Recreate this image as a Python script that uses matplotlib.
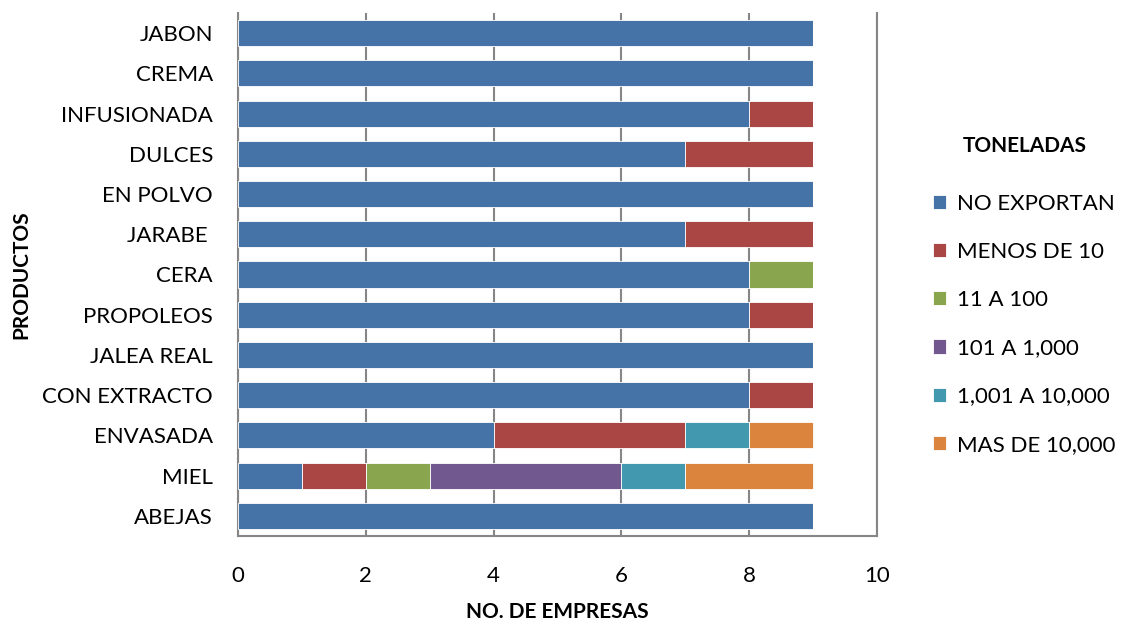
import matplotlib
matplotlib.use("Agg")
import matplotlib.pyplot as plt
import numpy as np

plt.rcParams['font.family'] = ['Lato', 'DejaVu Sans']

productos = ["JABON", "CREMA", "INFUSIONADA", "DULCES", "EN POLVO", "JARABE ",
             "CERA", "PROPOLEOS", "JALEA REAL", "CON EXTRACTO", "ENVASADA",
             "MIEL", "ABEJAS"]

no_exportan = [9, 9, 8, 7, 9, 7, 8, 8, 9, 8, 4, 1, 9]
menos_de_10 = [0, 0, 1, 2, 0, 2, 0, 1, 0, 1, 3, 1, 0]
de_11_a_100 = [0, 0, 0, 0, 0, 0, 1, 0, 0, 0, 0, 1, 0]
de_101_a_1000 = [0, 0, 0, 0, 0, 0, 0, 0, 0, 0, 0, 3, 0]
de_1001_a_10000 = [0, 0, 0, 0, 0, 0, 0, 0, 0, 0, 1, 1, 0]
mas_de_10000 = [0, 0, 0, 0, 0, 0, 0, 0, 0, 0, 1, 2, 0]

series = [
    ("NO EXPORTAN", no_exportan, "#4572A7"),
    ("MENOS DE 10", menos_de_10, "#AA4643"),
    ("11 A 100", de_11_a_100, "#89A54E"),
    ("101 A 1,000", de_101_a_1000, "#71588F"),
    ("1,001 A 10,000", de_1001_a_10000, "#4198AF"),
    ("MAS DE 10,000", mas_de_10000, "#DB843D"),
]

fig = plt.figure(figsize=(11.23, 6.21), dpi=100)
ax = fig.add_axes([0.212, 0.137, 0.569, 0.842])

y = np.arange(len(productos))[::-1]
left = np.zeros(len(productos))
handles = []
for name, vals, color in series:
    vals = np.array(vals, dtype=float)
    b = ax.barh(y, vals, left=left, height=0.65, color=color,
                edgecolor="white", linewidth=0.6, label=name, zorder=3)
    handles.append(b)
    left += vals

ax.set_xlim(0, 10)
ax.set_ylim(-0.5, len(productos) - 0.5)
ax.set_xticks([0, 2, 4, 6, 8, 10])
ax.set_yticks(y)
ax.set_yticklabels(productos)
ax.tick_params(axis="both", length=0, labelsize=16, colors="black")
ax.tick_params(axis="y", pad=18)
ax.tick_params(axis="x", pad=22)

ax.xaxis.grid(True, color="#868686", linewidth=1.5, zorder=0)
ax.set_axisbelow(True)
for side in ["left", "bottom", "right"]:
    ax.spines[side].set_color("#868686")
    ax.spines[side].set_linewidth(1.5)
ax.spines["top"].set_visible(False)

ax.set_xlabel("NO. DE EMPRESAS", fontsize=15, fontweight="bold", labelpad=11)
ax.set_ylabel("PRODUCTOS", fontsize=15, fontweight="bold", labelpad=8)

leg = fig.legend(handles=handles, loc="upper left",
                 bbox_to_anchor=(0.813, 0.813), frameon=False,
                 fontsize=16, title="TONELADAS",
                 title_fontproperties={"weight": "bold", "size": 15},
                 handlelength=0.6, handleheight=0.6, handletextpad=0.5,
                 labelspacing=1.27)
leg._legend_box.sep = 27

fig.savefig("out.png", dpi=100, facecolor="white")
